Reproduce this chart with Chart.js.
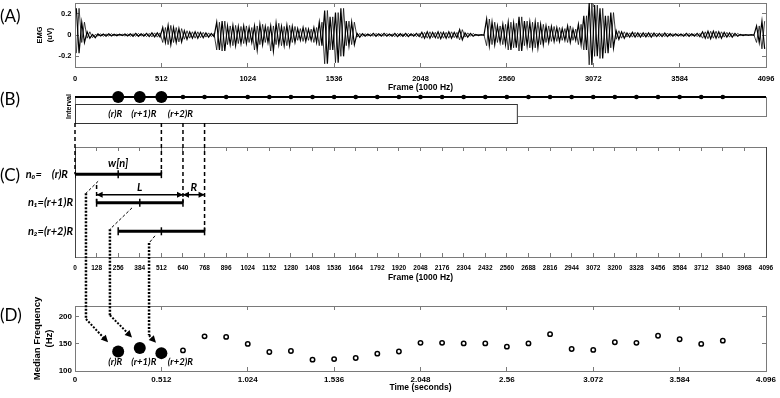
<!DOCTYPE html>
<html>
<head>
<meta charset="utf-8">
<script src="https://cdn.jsdelivr.net/npm/chart.js@4.4.1/dist/chart.umd.min.js"></script>
<style>
  html, body { margin: 0; padding: 0; background: #fff; }
  #wrap { position: relative; width: 780px; height: 398px; overflow: hidden; }
  #wrap canvas { position: absolute; left: 0; top: 0; }
</style>
</head>
<body>
<div id="wrap">
  <canvas id="chartA" width="780" height="398"></canvas>
  <canvas id="chartB" width="780" height="398"></canvas>
  <canvas id="chartC" width="780" height="398"></canvas>
  <canvas id="chartD" width="780" height="398"></canvas>
</div>
<script>
// ---- values ----
const sampleRate = 1000; // frames per second

const frameTicksA = [0, 512, 1024, 1536, 2048, 2560, 3072, 3584, 4096];
const frameTicksC = [0, 128, 256, 384, 512, 640, 768, 896, 1024, 1152, 1280, 1408, 1536, 1664, 1792, 1920, 2048,
    2176, 2304, 2432, 2560, 2688, 2816, 2944, 3072, 3200, 3328, 3456, 3584, 3712, 3840, 3968, 4096];
const emgTicks = [-0.2, 0, 0.2];
const timeTicks = [0, 0.512, 1.024, 1.536, 2.048, 2.56, 3.072, 3.584, 4.096];
const freqTicks = [100, 150, 200];

// (A) EMG trace, peak and trough of every 32-frame block
const blockSize = 32;
const emgPeak = [
    .25, .12, .03, .005, .01, .01, .012, .008, .008, .01, .012, .015, .012, .015, .02, .02,
    .07, .09, .07, .06, .04, .03, .03, .025, .02, .015, .12, .13, .085, .09, .08, .085,
    .07, .085, .1, .08, .085, .11, .08, .09, .08, .06, .07, .055, .07, .12, .23, .17,
    .21, .25, .13, .12, .015, .012, .01, .015, .012, .015, .01, .015, .012, .015, .012, .015,
    .025, .03, .025, .03, .025, .03, .025, .05, .02, .015, .005, .003, .15, .12, .085, .1,
    .12, .11, .17, .13, .12, .12, .1, .085, .08, .07, .06, .085, .055, .1, .18, .3,
    .28, .25, .18, .21, .04, .03, .02, .025, .02, .02, .02, .018, .015, .018, .012, .012,
    .01, .015, .012, .015, .03, .035, .035, .03, .025, .02, .015, .005, .003, .003, .085, .13
];
const emgTrough = [
    -.17, -.07, -.03, -.025, -.01, -.012, -.01, -.008, -.006, -.01, -.012, -.012, -.01, -.015, -.018, -.02,
    -.07, -.09, -.07, -.065, -.04, -.03, -.03, -.025, -.02, -.015, -.14, -.15, -.09, -.1, -.08, -.08,
    -.07, -.14, -.09, -.07, -.15, -.09, -.1, -.1, -.07, -.05, -.06, -.05, -.07, -.1, -.27, -.14,
    -.26, -.2, -.1, -.09, -.02, -.012, -.01, -.012, -.01, -.012, -.012, -.015, -.012, -.015, -.01, -.015,
    -.03, -.03, -.025, -.035, -.03, -.03, -.025, -.045, -.02, -.012, -.005, -.003, -.1, -.09, -.07, -.09,
    -.14, -.12, -.15, -.1, -.12, -.12, -.09, -.07, -.06, -.06, -.05, -.07, -.05, -.09, -.14, -.28,
    -.2, -.22, -.17, -.12, -.04, -.03, -.02, -.02, -.02, -.018, -.02, -.015, -.015, -.015, -.012, -.01,
    -.012, -.012, -.01, -.015, -.03, -.035, -.03, -.03, -.02, -.02, -.012, -.005, -.003, -.003, -.07, -.13
];

// (B) and (D) window centres (frames) and median frequency of each window (Hz)
const centreFrames = [256, 384, 512, 640, 768, 896, 1024, 1152, 1280, 1408, 1536, 1664, 1792, 1920, 2048,
    2176, 2304, 2432, 2560, 2688, 2816, 2944, 3072, 3200, 3328, 3456, 3584, 3712, 3840];
const medianFreq = [136, 142.5, 133, 138, 164, 163, 150, 135, 137, 121, 122, 124, 132, 136, 152,
    152, 151, 151, 145, 151, 168, 140.5, 139, 153, 152, 165, 158.5, 150, 156];
const highlightLabels = ['(r)R', '(r+1)R', '(r+2)R'];
const intervalBox = [0, 2625]; // frames covered by the (B) interval box

// (C) the three overlapping windows
const windowStarts = [0, 128, 256];
const windowLength = 512;
const windowLabels = ['n\u2080=\u2003 (r)R\u2002', 'n\u2081=(r+1)R', 'n\u2082=(r+2)R'];

// dotted links from the windows in (C) to their points in (D)
// start and bend in (C) units [frame, level], drop and tip in (D) units
const links = [
    {start: [137, 2.75], bend: [65, 2.33], drop: 196, tip: [0.196, 153]},
    {start: [338, 1.82], bend: [207, 1.07], drop: 203, tip: [0.338, 162]},
    {start: [474, 0.84], bend: [439, 0.59], drop: 166, tip: [0.480, 152]}
];

// ---- shared helpers ----
const EDGE = '#7a7a7a';
const AXIS_FONT = '"Liberation Sans", Arial, sans-serif';
const NOTE_FONT = 'Lato, Carlito, sans-serif';
const noteFont = size => 'italic bold ' + size + 'px ' + NOTE_FONT;

const useTicks = values => scale => { scale.ticks = values.map(v => ({value: v})); };

// fix an axis to a given thickness so every panel gets the same plot box
const fitTo = size => scale =>
{
    if (scale.isHorizontal()) scale.height = size; else scale.width = size;
    scale.paddingLeft = scale.paddingRight = scale.paddingTop = scale.paddingBottom = 0;
};

// MATLAB style box: top / right axes that only carry inward ticks
function mirror(position, min, max, values)
{
    const axis = {
        type: 'linear', position, min, max,
        afterFit: fitTo(0),
        ticks: {display: false},
        grid: {drawOnChartArea: false, drawTicks: !!values, tickLength: -4, color: EDGE},
        border: {color: EDGE}
    };
    if (values) axis.afterBuildTicks = useTicks(values);
    return axis;
}

function bottomAxis(min, max, values, fmt, size, padding, title, titleBottom)
{
    return {
        type: 'linear', min, max,
        afterBuildTicks: useTicks(values),
        ticks: {color: '#000', font: {family: AXIS_FONT, size, weight: 'bold'}, padding, maxRotation: 0,
            autoSkip: false, callback: fmt},
        grid: {drawOnChartArea: false, tickLength: -4, color: EDGE},
        border: {color: EDGE},
        title: {display: !!title, text: title, color: '#000', font: {family: AXIS_FONT, size: 8.5, weight: 'bold'},
            padding: {top: 0, bottom: titleBottom}}
    };
}

function stroke(ctx, pts, width, dash)
{
    ctx.save();
    ctx.strokeStyle = '#000';
    ctx.lineWidth = width;
    ctx.setLineDash(dash || []);
    ctx.beginPath();
    ctx.moveTo(pts[0][0], pts[0][1]);
    pts.slice(1).forEach(p => ctx.lineTo(p[0], p[1]));
    ctx.stroke();
    ctx.restore();
}

function head(ctx, from, to, len, half)
{
    const a = Math.atan2(to[1] - from[1], to[0] - from[0]);
    ctx.save();
    ctx.fillStyle = '#000';
    ctx.translate(to[0], to[1]);
    ctx.rotate(a);
    ctx.beginPath();
    ctx.moveTo(0, 0);
    ctx.lineTo(-len, -half);
    ctx.lineTo(-len, half);
    ctx.closePath();
    ctx.fill();
    ctx.restore();
}

function label(ctx, str, x, y, font, align)
{
    ctx.save();
    ctx.fillStyle = '#000';
    ctx.font = font;
    ctx.textAlign = align || 'center';
    ctx.textBaseline = 'middle';
    ctx.fillText(str, x, y);
    ctx.restore();
}

const panelLetter = (letter, y) => ({
    id: 'panel' + letter,
    afterDraw(chart) { label(chart.ctx, '(' + letter + ')', 0, y, '17px ' + NOTE_FONT, 'left'); }
});

const labelShift = [-3, 4, 19]; // px, where the (r)R captions sit relative to their dots

const baseOptions = {
    responsive: false,
    animation: false,
    events: [],
    plugins: {legend: {display: false}, tooltip: {enabled: false}}
};

// ---- (A) EMG ----
// each block is drawn as a rise to its peak and a fall to its trough, and once more in the other order
const emgUpDown = [];
const emgDownUp = [];
emgPeak.forEach((peak, i) =>
{
    const a = i * blockSize + blockSize / 4;
    const b = i * blockSize + 3 * blockSize / 4;
    emgUpDown.push({x: a, y: peak}, {x: b, y: emgTrough[i]});
    emgDownUp.push({x: a, y: emgTrough[i]}, {x: b, y: peak});
});

const chartA = new Chart(document.getElementById('chartA'), {
    type: 'line',
    data: {
        datasets: [
            {data: emgUpDown, borderColor: '#000', borderWidth: 1.2, pointRadius: 0, tension: 0},
            {data: emgDownUp, borderColor: '#111', borderWidth: 0.8, pointRadius: 0, tension: 0}
        ]
    },
    options: {
        ...baseOptions,
        layout: {padding: {left: 0, right: 14, top: 3, bottom: 304}},
        scales: {
            x: {...bottomAxis(0, 4096, frameTicksA, v => String(v), 7.5, 11, 'Frame (1000 Hz)', 1), afterFit: fitTo(27)},
            y: {
                min: -0.3, max: 0.3,
                afterBuildTicks: useTicks(emgTicks),
                afterFit: fitTo(75),
                ticks: {color: '#000', font: {family: AXIS_FONT, size: 7.5, weight: 'bold'}, padding: 7.5},
                grid: {drawOnChartArea: false, tickLength: -4, color: EDGE},
                border: {color: EDGE},
                title: {display: true, text: ['EMG', '(uV)'], color: '#000',
                    font: {family: AXIS_FONT, size: 7.5, weight: 'bold', lineHeight: 1.35}, padding: {top: 35, bottom: 0}}
            },
            x2: mirror('top', 0, 4096, frameTicksA),
            y2: mirror('right', -0.3, 0.3, emgTicks)
        }
    },
    plugins: [panelLetter('A', 16.5)]
});

// ---- (B) interval strip ----
const intervalNotes = {
    id: 'intervalNotes',
    afterDraw(chart)
    {
        const {ctx, scales: {x, y}} = chart;
        const left = x.getPixelForValue(intervalBox[0]);
        const right = x.getPixelForValue(intervalBox[1]);
        const top = Math.round(y.getPixelForValue(0.63));
        const bottom = Math.round(y.getPixelForValue(-0.37));
        ctx.save();
        ctx.fillStyle = '#fff';
        ctx.fillRect(left, top, right - left, bottom - top);
        ctx.strokeStyle = '#333';
        ctx.lineWidth = 1;
        ctx.strokeRect(left + 0.5, top + 0.5, right - left - 1, bottom - top);
        ctx.restore();
        highlightLabels.forEach((t, i) =>
            label(ctx, t, x.getPixelForValue(centreFrames[i]) + labelShift[i], y.getPixelForValue(0.1), noteFont(9.5)));
    }
};

const chartB = new Chart(document.getElementById('chartB'), {
    type: 'scatter',
    data: {
        datasets: [
            {
                data: centreFrames.map(f => ({x: f, y: 1})),
                pointRadius: c => c.dataIndex < highlightLabels.length ? 6 : 2.3,
                pointBackgroundColor: '#000', pointBorderWidth: 0, clip: false
            },
            {
                data: [{x: 0, y: 1}, {x: 4096, y: 1}],
                showLine: true, borderColor: '#000', borderWidth: 2, pointRadius: 0, clip: false
            }
        ]
    },
    options: {
        ...baseOptions,
        layout: {padding: {left: 0, right: 14, top: 97, bottom: 282}},
        scales: {
            x: {type: 'linear', min: 0, max: 4096, afterFit: fitTo(0), ticks: {display: false},
                grid: {drawOnChartArea: false, drawTicks: false}, border: {color: EDGE}},
            y: {
                min: 0, max: 1, afterFit: fitTo(75), ticks: {display: false},
                grid: {drawOnChartArea: false, drawTicks: false}, border: {color: EDGE},
                title: {display: true, text: 'Interval', color: '#000',
                    font: {family: AXIS_FONT, size: 7, weight: 'bold'}, padding: {top: 65, bottom: 0}}
            },
            x2: mirror('top', 0, 4096, null),
            y2: mirror('right', 0, 1, null)
        }
    },
    plugins: [intervalNotes, panelLetter('B', 99.5)]
});

// ---- (C) windows ----
const windowNotes = {
    id: 'windowNotes',
    afterDraw(chart)
    {
        const {ctx, scales: {x, y}} = chart;
        const px = f => x.getPixelForValue(f);
        const py = v => y.getPixelForValue(v);
        const stripBottom = chartB.scales.y.getPixelForValue(-0.37);

        // window edges dropped from the interval strip
        const edges = [
            [windowStarts[0], 3],
            [windowStarts[0] + windowLength, 3],
            [windowStarts[1] + windowLength, 2],
            [windowStarts[2] + windowLength, 1]
        ];
        edges.forEach(([f, level]) => stroke(ctx, [[px(f), stripBottom], [px(f), py(level)]], 1.5, [4, 3]));
        stroke(ctx, [[px(windowStarts[1]), py(2.62)], [px(windowStarts[1]), py(2)]], 1.5, [4, 3]);

        // window length L and hop R
        const ay = py(2.28);
        const l0 = [px(windowStarts[1]), ay], l1 = [px(windowStarts[1] + windowLength), ay];
        const r1 = [px(windowStarts[2] + windowLength), ay];
        stroke(ctx, [l0, l1], 1.5);
        stroke(ctx, [l1, r1], 1.5);
        head(ctx, l1, l0, 6, 3);
        head(ctx, l0, l1, 6, 3);
        head(ctx, r1, l1, 6, 3);
        head(ctx, l1, r1, 6, 3);

        label(ctx, 'w[n]', px(windowStarts[0] + windowLength / 2), py(3.36), noteFont(11));
        label(ctx, 'L', px(windowStarts[1] + windowLength / 2), py(2.53), noteFont(11));
        label(ctx, 'R', (l1[0] + r1[0]) / 2, py(2.53), noteFont(11));
    }
};

const chartC = new Chart(document.getElementById('chartC'), {
    type: 'line',
    data: {
        datasets: windowStarts.map((s, k) => ({
            data: [{x: s, y: 3 - k}, {x: s + windowLength / 2, y: 3 - k}, {x: s + windowLength, y: 3 - k}],
            borderColor: '#000', borderWidth: 3, tension: 0,
            pointStyle: 'line', pointRotation: 90, pointRadius: 4, pointBorderWidth: 1.5, pointBorderColor: '#000'
        }))
    },
    options: {
        ...baseOptions,
        layout: {padding: {left: 0, right: 14, top: 147, bottom: 114}},
        scales: {
            x: {...bottomAxis(0, 4096, frameTicksC, v => String(v), 6.5, 11, 'Frame (1000 Hz)', 1), afterFit: fitTo(27)},
            y: {
                min: 0.1, max: 3.95,
                afterBuildTicks: useTicks([1, 2, 3]),
                afterFit: fitTo(75),
                ticks: {color: '#000', font: {family: NOTE_FONT, size: 11, weight: 'bold', style: 'italic'}, padding: 2,
                    callback: v => windowLabels[3 - v]},
                grid: {drawOnChartArea: false, drawTicks: false},
                border: {color: '#444'}
            },
            x2: mirror('top', 0, 4096, frameTicksC),
            y2: {...mirror('right', 0.1, 3.95, null), border: {color: '#444'}}
        }
    },
    plugins: [windowNotes, panelLetter('C', 176)]
});

// ---- (D) median frequency ----
const centreTimes = centreFrames.map(f => f / sampleRate);

const freqNotes = {
    id: 'freqNotes',
    afterDraw(chart)
    {
        const {ctx, scales: {x, y}} = chart;
        highlightLabels.forEach((t, i) =>
            label(ctx, t, x.getPixelForValue(centreTimes[i]) + labelShift[i], y.getPixelForValue(116.5), noteFont(9.5)));

        const cx = chartC.scales.x, cy = chartC.scales.y;
        links.forEach(link =>
        {
            const p0 = [cx.getPixelForValue(link.start[0]), cy.getPixelForValue(link.start[1])];
            const p1 = [cx.getPixelForValue(link.bend[0]), cy.getPixelForValue(link.bend[1])];
            const p2 = [p1[0], y.getPixelForValue(link.drop)];
            const p3 = [x.getPixelForValue(link.tip[0]), y.getPixelForValue(link.tip[1])];
            stroke(ctx, [p0, p1], 1, [3, 2]);
            stroke(ctx, [p1, p2], 2.5, [2, 1.5]);
            stroke(ctx, [p2, [p3[0] - 3, p3[1] - 3]], 2, [2, 1.5]);
            head(ctx, p2, p3, 7, 3.5);
        });
    }
};

const highlighted = highlightLabels.length;
const chartD = new Chart(document.getElementById('chartD'), {
    type: 'scatter',
    data: {
        datasets: [{
            data: centreTimes.map((t, i) => ({x: t, y: medianFreq[i]})),
            pointRadius: c => c.dataIndex < highlighted ? 6 : 2.2,
            pointBackgroundColor: c => c.dataIndex < highlighted ? '#000' : '#fff',
            pointBorderColor: '#000',
            pointBorderWidth: c => c.dataIndex < highlighted ? 0 : 1.5
        }]
    },
    options: {
        ...baseOptions,
        layout: {padding: {left: 0, right: 14, top: 306, bottom: 3}},
        scales: {
            x: {...bottomAxis(0, 4.096, timeTicks, v => String(+v.toFixed(3)), 8, 8, 'Time (seconds)', 2), afterFit: fitTo(24)},
            y: {
                min: 100, max: 220,
                afterBuildTicks: useTicks(freqTicks),
                afterFit: fitTo(75),
                ticks: {color: '#000', font: {family: AXIS_FONT, size: 8, weight: 'bold'}, padding: 7},
                grid: {drawOnChartArea: false, tickLength: -4, color: EDGE},
                border: {color: EDGE},
                title: {display: true, text: ['Median Frequency', '(Hz)'], color: '#000',
                    font: {family: AXIS_FONT, size: 9.5, weight: 'bold', lineHeight: 1.3}, padding: {top: 31, bottom: 0}}
            },
            x2: mirror('top', 0, 4.096, timeTicks),
            y2: mirror('right', 100, 220, freqTicks)
        }
    },
    plugins: [freqNotes, panelLetter('D', 316)]
});
</script>
</body>
</html>
